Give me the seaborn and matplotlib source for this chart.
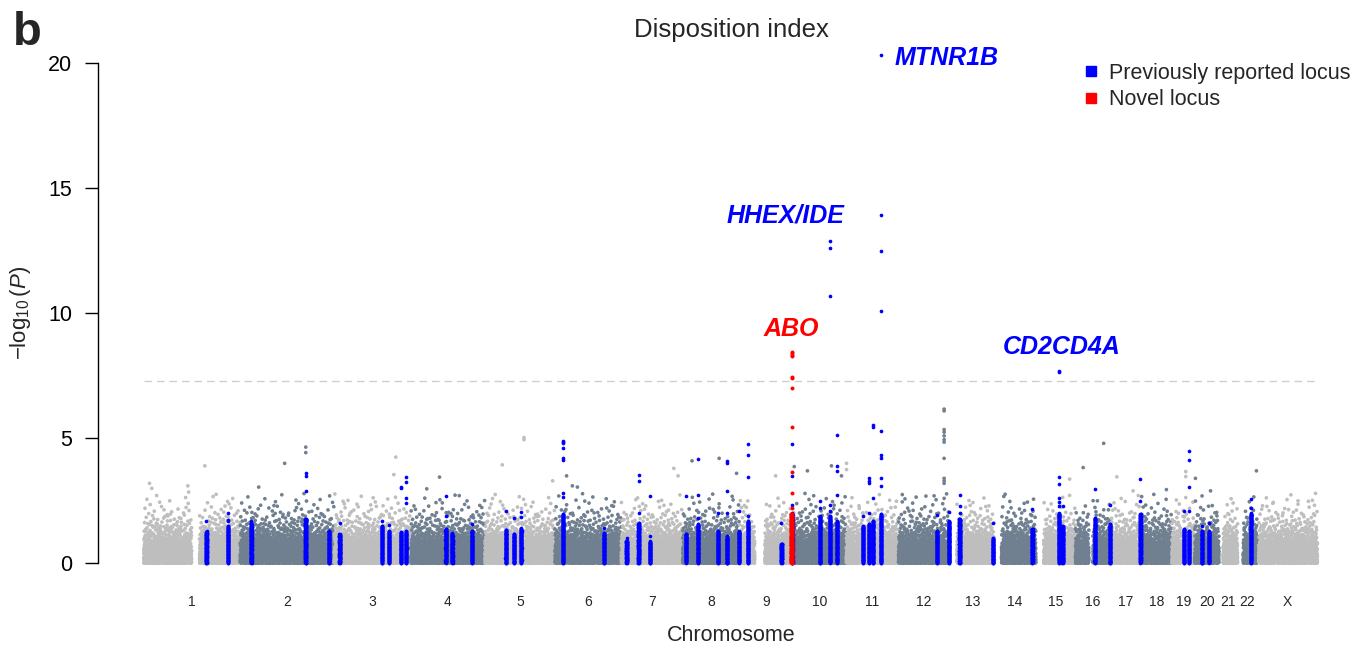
import numpy as np
import pandas as pd
import seaborn as sns
import matplotlib
matplotlib.use("Agg")
import matplotlib.pyplot as plt
from matplotlib.lines import Line2D

# ---------------------------------------------------------------- genome layout
CHROMS = [str(i) for i in range(1, 23)] + ["X"]
CHROM_LEN_MB = [249, 243, 198, 191, 181, 171, 159, 146, 141, 135, 135, 133,
                115, 107, 102, 90, 81, 78, 59, 63, 48, 51, 155]
# stretches without genotyped markers (centromeres / acrocentric arms)
NO_DATA_MB = {"1": (124, 144), "9": (40, 66), "13": (0, 18), "14": (0, 18),
              "15": (0, 20), "16": (35, 45), "19": (24, 28), "21": (0, 10),
              "22": (0, 14), "X": (0, 3)}
SNP_DENSITY_PER_MB = 8       # thinned background markers drawn per Mb
BACKGROUND_LAMBDA = 1.2      # mild inflation of the background statistics
BACKGROUND_CAP = 2.8         # background cloud kept below this -log10(P)
GW_THRESHOLD = -np.log10(5e-8)

# ---------------------------------------------------------------- loci
# chromosome, position (Mb), height of the solid column, isolated top SNPs
LOCUS_CHROM = ["1", "1", "2", "2", "2", "3", "3", "3", "3", "3",
               "4", "4", "4", "5", "5", "5", "6", "6", "7", "7",
               "7", "8", "8", "8", "8", "8", "9", "9", "9", "10",
               "10", "10", "11", "11", "11", "11", "12", "12", "13", "13",
               "14", "15", "15", "16", "16", "17", "19", "19", "20", "20",
               "22", "9"]
LOCUS_POS_MB = [162, 218, 29, 169, 229, 14, 123, 141, 172, 186,
                90, 107, 158, 54, 75, 94, 21, 127, 14, 45,
                74, 8, 39, 91, 114, 145, 22, 109, 137, 67,
                93, 111, 44, 59, 69, 90, 100, 130, 25, 111,
                98, 60, 69, 50, 89, 78, 31, 44, 19, 37,
                34, 135]
LOCUS_BAND = [1.3, 1.5, 1.6, 1.8, 1.3, 1.2, 1.5, 1.3, 1.25, 1.3,
              1.4, 1.2, 1.3, 1.35, 1.2, 1.4, 2.0, 1.2, 0.9, 1.6,
              0.9, 1.2, 1.6, 1.3, 1.1, 1.3, 1.7, 0.8, 2.0, 1.9,
              1.9, 1.7, 1.5, 1.6, 1.7, 2.0, 1.3, 1.7, 1.8, 1.0,
              1.4, 2.0, 1.5, 1.8, 1.6, 2.0, 1.4, 1.3, 1.3, 1.3,
              2.0, 2.0]
LOCUS_TOP = [[1.7], [2.0, 1.75, 1.7], [1.7], [3.6, 3.5, 2.9], [1.3],
             [1.6], [1.7], [1.55], [3.07, 3.0], [3.45, 3.27, 2.6, 2.4],
             [2.7, 1.9], [1.2], [1.57], [2.1], [1.8],
             [2.07, 1.85], [4.9, 4.85, 4.8, 4.6, 4.2, 4.15, 2.8, 2.67], [1.4], [1.0], [3.54, 3.3, 2.0],
             [2.7, 1.1], [2.7], [4.17, 2.75, 1.8], [2.0], [4.1, 4.0, 2.9, 2.0],
             [2.1], [4.77, 4.35, 3.47, 1.9], [1.6], [4.77, 3.5, 2.35], [2.5, 2.2],
             [12.9, 12.6, 10.7, 2.33, 2.1], [5.14, 3.9, 3.7, 2.73], [1.9], [3.4, 3.3, 3.2, 2.0], [5.54, 5.47, 2.6],
             [20.33, 13.92, 12.5, 10.08, 5.3, 4.35, 4.2, 3.4, 3.1], [1.93], [2.07], [2.74, 2.3, 2.0], [1.6],
             [2.17], [7.7, 7.65, 3.47, 3.17, 2.6, 2.45, 2.3], [2.3], [2.98], [2.33],
             [3.38, 2.5], [2.1], [4.5, 4.13, 3.05, 2.1], [1.5], [1.6],
             [2.56, 2.2], [8.45, 8.4, 8.35, 8.3, 7.45, 7.4, 7.0, 5.47, 3.67, 2.83, 2.2]]
LOCUS_KIND = ["reported"] * 51 + ["novel"]

# gene names: locus index, text offset from its top SNP (points), alignment
GENE_NAMES = ["MTNR1B", "HHEX/IDE", "ABO", "CD2CD4A"]
GENE_LOCUS = [35, 30, 51, 41]
GENE_OFFSET_PT = [(10, -2), (-32, 18), (0, 17), (1.5, 17.4)]
GENE_HA = ["left", "center", "center", "center"]

# isolated background SNPs standing above the cloud
BG_CHROM = ["12"] * 12 + ["5", "5", "16", "2", "2", "2", "3", "1", "22", "11", "11",
            "10", "7", "7", "8", "8", "8", "5", "5", "6", "9", "10", "10", "10",
            "16", "17", "15", "19", "19", "20", "18", "20", "X", "1", "1", "1", "1",
            "2", "3", "4", "4", "6", "6", "17", "12", "12", "X", "X"]
BG_POS_MB = [118] * 12 + [101, 101, 73, 169.5, 169.5, 115, 159, 158, 48.5, 1, 1,
             97, 136, 147, 24, 94, 139, 45, 175, 30, 94, 1, 35, 123,
             20, 17, 87, 36, 36, 2, 64, 41, 150, 15, 21, 114, 116,
             48, 154, 74, 41, 45, 58, 59, 10, 92, 105, 40]
BG_LOGP = [6.17, 6.1, 5.35, 5.25, 5.1, 4.95, 4.85, 4.2, 3.4, 3.3, 3.2, 2.6,
           5.03, 4.95, 4.8, 4.65, 4.43, 4.0, 4.25, 3.9, 3.7, 4.0, 3.75,
           3.9, 3.8, 3.5, 4.1, 4.2, 3.6, 3.94, 3.3, 3.5, 3.5, 3.87, 3.7, 3.5,
           3.83, 3.46, 3.37, 3.67, 3.47, 3.4, 2.95, 2.9, 2.8, 3.2, 3.0, 3.1, 2.85,
           3.05, 3.55, 3.45, 2.98, 3.1, 3.05, 2.9, 2.75, 2.7, 2.5, 2.4]

LIGHT, DARK = "#BEBEBE", "#708090"
BLUE, RED = "#0000FF", "#FF0000"

# ---------------------------------------------------------------- helpers
chrom_start = dict(zip(CHROMS, np.concatenate([[0], np.cumsum(CHROM_LEN_MB)[:-1]])))
chrom_shade = {c: ("light" if i % 2 == 0 else "dark") for i, c in enumerate(CHROMS)}
genome_len = float(sum(CHROM_LEN_MB))


def halton(n, base, start):
    """Low-discrepancy sequence used to spread the dense marker cloud."""
    idx = np.arange(start, start + n)
    out = np.zeros(n)
    f = 1.0 / base
    while np.any(idx > 0):
        out += f * (idx % base)
        idx //= base
        f /= base
    return out


# background cloud
bg_parts = []
seq = 1
for c, L in zip(CHROMS, CHROM_LEN_MB):
    n = int(round(L * SNP_DENSITY_PER_MB))
    pos = halton(n, 2, seq) * L
    logp = -np.log10(halton(n, 3, seq)) * BACKGROUND_LAMBDA
    seq += n
    keep = logp <= BACKGROUND_CAP
    if c in NO_DATA_MB:
        a, b = NO_DATA_MB[c]
        keep &= ~((pos >= a) & (pos <= b))
    bg_parts.append(pd.DataFrame({"cum": chrom_start[c] + pos[keep],
                                  "logp": logp[keep],
                                  "shade": chrom_shade[c]}))
bg = pd.concat(bg_parts, ignore_index=True)

extra = pd.DataFrame({"cum": [chrom_start[c] + p for c, p in zip(BG_CHROM, BG_POS_MB)],
                      "logp": BG_LOGP,
                      "shade": [chrom_shade[c] for c in BG_CHROM]})
bg = pd.concat([bg, extra], ignore_index=True)

# locus columns
loc_parts = []
for k, (c, p, band, tops, kind) in enumerate(zip(LOCUS_CHROM, LOCUS_POS_MB, LOCUS_BAND,
                                                 LOCUS_TOP, LOCUS_KIND)):
    m = int(60 * band) + 10
    half = 2.0 if kind == "novel" else 0.7
    s0 = 1 + 500 * k
    xs = chrom_start[c] + p + (halton(m, 5, s0) - 0.5) * 2 * half
    ys = halton(m, 7, s0) * band
    col = pd.DataFrame({"cum": np.concatenate([xs, np.full(len(tops), chrom_start[c] + p)]),
                        "logp": np.concatenate([ys, tops]),
                        "kind": kind})
    loc_parts.append(col)
loci = pd.concat(loc_parts, ignore_index=True)

# ---------------------------------------------------------------- figure
sns.set_style("white")
plt.rcParams["font.family"] = ["Liberation Sans", "DejaVu Sans"]
plt.rcParams["mathtext.fontset"] = "custom"
plt.rcParams["mathtext.rm"] = "Liberation Sans"
plt.rcParams["mathtext.it"] = "Liberation Sans:italic"

fig = plt.figure(figsize=(13.72, 6.48), dpi=100)
ax = fig.add_axes([0.0712, 0.1114, 0.898, 0.8215])

sns.scatterplot(data=bg, x="cum", y="logp", hue="shade",
                palette={"light": LIGHT, "dark": DARK}, s=7, linewidth=0,
                legend=False, ax=ax, rasterized=True)
sns.scatterplot(data=loci[loci.kind == "reported"], x="cum", y="logp", color=BLUE,
                s=7, linewidth=0, legend=False, ax=ax, rasterized=True)
sns.scatterplot(data=loci[loci.kind == "novel"], x="cum", y="logp", color=RED,
                s=8, linewidth=0, legend=False, ax=ax, rasterized=True)

ax.hlines(GW_THRESHOLD, 0, genome_len, colors="#CFCFCF", linewidth=1.0,
          linestyles=(0, (5.5, 3.5)), zorder=0)

# gene names above their lead SNPs
for name, li, off, ha in zip(GENE_NAMES, GENE_LOCUS, GENE_OFFSET_PT, GENE_HA):
    c = LOCUS_CHROM[li]
    x = chrom_start[c] + LOCUS_POS_MB[li]
    y = max(LOCUS_TOP[li])
    colr = RED if LOCUS_KIND[li] == "novel" else BLUE
    ax.annotate(name, (x, y), xytext=off, textcoords="offset points",
                ha=ha, va="center", color=colr, fontsize=18,
                fontweight="bold", fontstyle="italic")

# axes styling
ax.set_xlim(-118.8, 3062.8)
ax.set_ylim(-0.5, 20.8)
for side in ("top", "right", "bottom"):
    ax.spines[side].set_visible(False)
ax.spines["left"].set_bounds(0, 20)
ax.spines["left"].set_linewidth(1.0)
ax.spines["left"].set_color("black")
ax.set_yticks([0, 5, 10, 15, 20])
ax.tick_params(axis="y", direction="out", length=9.4, width=1.0, pad=9,
               labelsize=15.5, left=True, colors="black")
mids = [chrom_start[c] + L / 2 for c, L in zip(CHROMS, CHROM_LEN_MB)]
ax.set_xticks(mids)
ax.set_xticklabels(CHROMS)
ax.tick_params(axis="x", length=0, pad=14, labelsize=10)

ax.set_xlabel("Chromosome", fontsize=15.5)
ax.xaxis.set_label_coords(0.514, -0.0924)
ax.set_ylabel(r"$-\log_{10}(P)$", fontsize=16)
ax.yaxis.label.set_va("center")
ax.yaxis.set_label_coords(-0.0625, 0.494)

ax.set_title("Disposition index", fontsize=18.5, x=0.514, y=1.025, pad=0, va="center")

handles = [Line2D([], [], marker="s", ls="", color=BLUE, markersize=7.5),
           Line2D([], [], marker="s", ls="", color=RED, markersize=7.5)]
ax.legend(handles, ["Previously reported locus", "Novel locus"],
          loc="upper left", bbox_to_anchor=(1082.7 / 1372, 1 - 63 / 648),
          bbox_transform=fig.transFigure, frameon=False, fontsize=15.5,
          handlelength=0.8, handletextpad=0.4, labelspacing=0.25,
          borderpad=0, borderaxespad=0)

fig.text(13 / 1372, 1 - 45 / 648, "b", fontsize=34, fontweight="bold", va="baseline")

fig.savefig("out.png", dpi=100)
